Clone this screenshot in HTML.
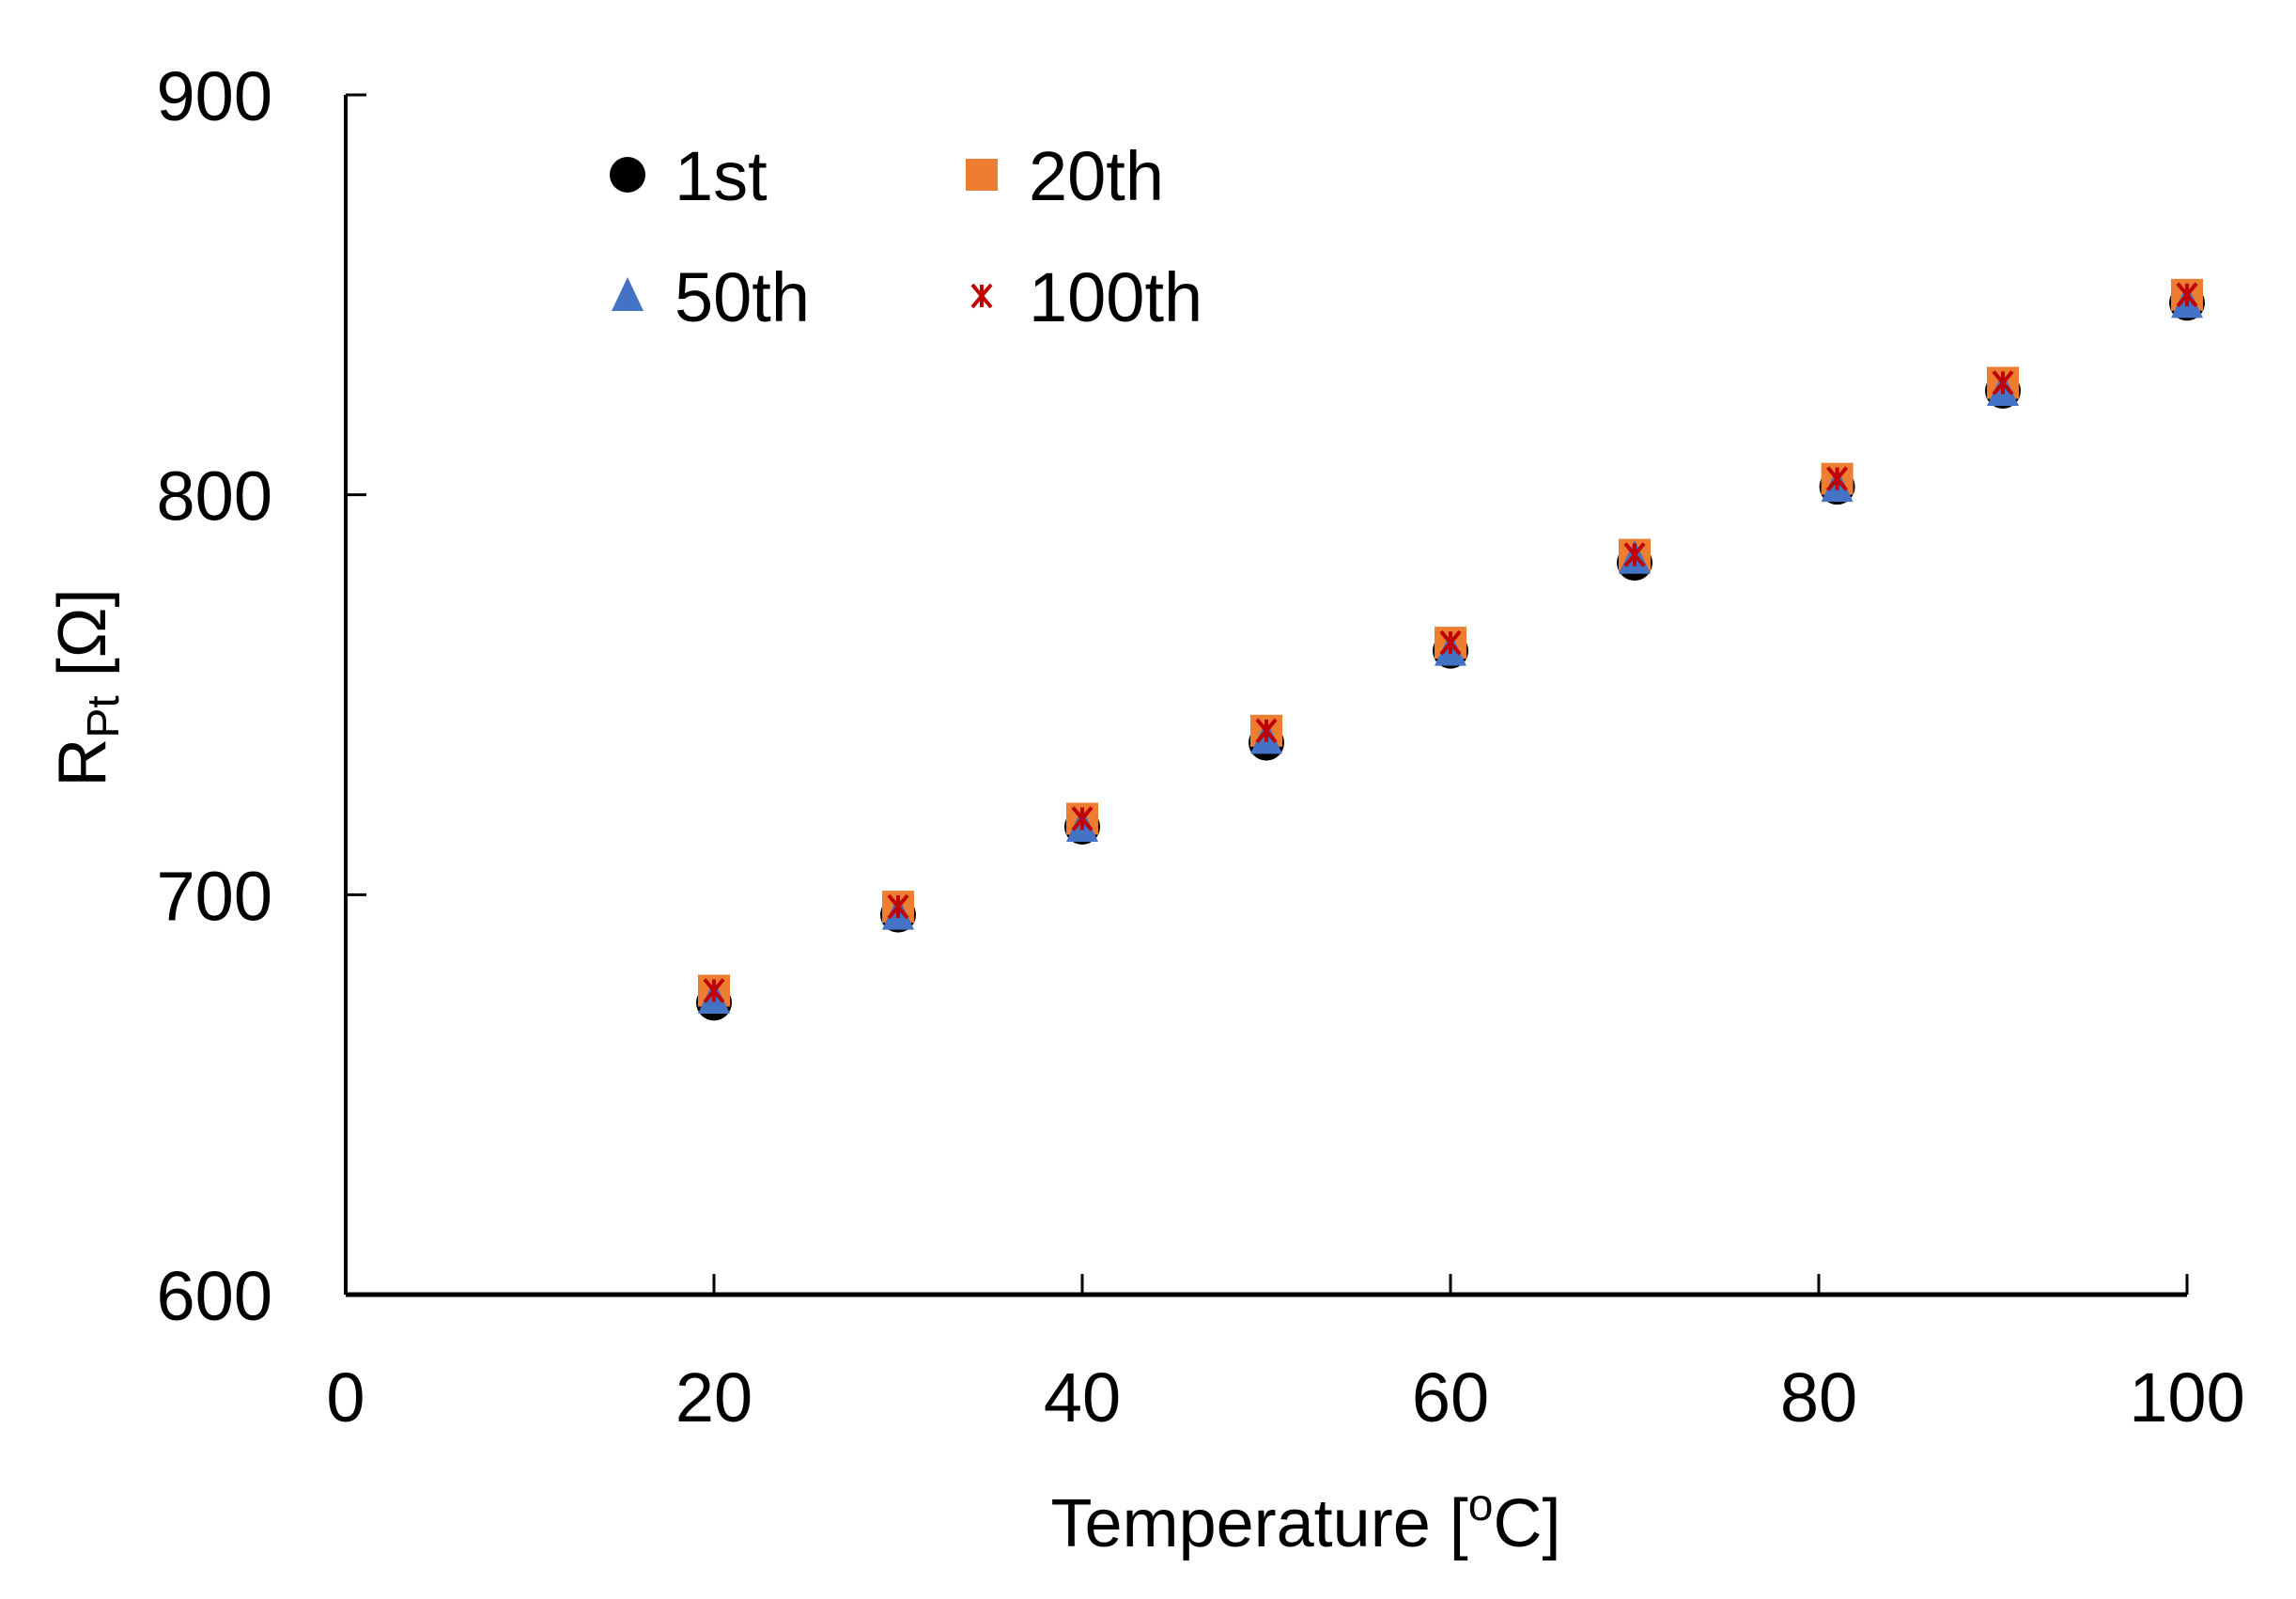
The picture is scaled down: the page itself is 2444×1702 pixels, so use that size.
<!DOCTYPE html>
<html><head><meta charset="utf-8"><style>
html,body{margin:0;padding:0;background:#fff;}
svg{display:block;font-family:"Liberation Sans","DejaVu Sans",sans-serif;}
</style></head><body>
<svg id="chart" width="2444" height="1702" viewBox="0 0 2444 1702" xmlns="http://www.w3.org/2000/svg">
<g id="axes"></g>
<g id="marks"></g>
<g id="legend"></g>
<text x="1390" y="1646" font-size="72" text-anchor="middle" fill="#000">Temperature [<tspan font-size="48" dy="-28">o</tspan><tspan dy="28">C]</tspan></text>
<text transform="translate(112,732) rotate(-90)" font-size="72" text-anchor="middle" fill="#000">R<tspan font-size="48" dy="14">Pt</tspan><tspan dy="-14"> [Ω]</tspan></text>
</svg>
<script>
const temps = [20, 30, 40, 50, 60, 70, 81, 90, 100];
const s1st = [673, 695, 717, 738, 761, 783, 802, 826, 848];
const s20th = [676, 697, 719, 741, 763, 785, 804, 828, 850];
const s50th = [674, 695, 717, 739, 761, 784, 802, 826, 848];
const s100th = [676, 697, 719, 741, 763, 785, 804, 828, 850];
const xTicks = [0, 20, 40, 60, 80, 100];
const yTicks = [600, 700, 800, 900];

const NS = "http://www.w3.org/2000/svg";
const X0 = 368, X1 = 2328, Y0 = 1378, Y1 = 101;
function xs(v){ return X0 + (v - 0) / 100 * (X1 - X0); }
function ys(v){ return Y0 - (v - 600) / 300 * (Y0 - Y1); }
function mk(tag, attrs, parent){
  const e = document.createElementNS(NS, tag);
  for (const k in attrs) e.setAttribute(k, attrs[k]);
  parent.appendChild(e); return e;
}
const axes = document.getElementById('axes');
const marks = document.getElementById('marks');
const legend = document.getElementById('legend');

let l = mk('line', {x1:X0, y1:Y0, x2:X1, y2:Y0, stroke:'#000', 'stroke-width':5}, axes);


l = mk('line', {x1:X0, y1:Y0, x2:X0, y2:Y1, stroke:'#000', 'stroke-width':4}, axes);



xTicks.forEach(t => {
  const tk = mk('line', {x1:xs(t), y1:Y0, x2:xs(t), y2:Y0-22, stroke:'#000', 'stroke-width':3}, axes);
  
  
  const tx = mk('text', {x:xs(t), y:1513, 'font-size':74, 'text-anchor':'middle', fill:'#000'}, axes);
  tx.textContent = t;
  
  
});
yTicks.forEach(t => {
  const tk = mk('line', {x1:X0, y1:ys(t), x2:X0+22, y2:ys(t), stroke:'#000', 'stroke-width':3}, axes);
  
  
  const tx = mk('text', {x:290, y:ys(t)+27, 'font-size':74, 'text-anchor':'end', fill:'#000'}, axes);
  tx.textContent = t;
  
  
});

function circle(x, y, p){ return mk('circle', {cx:x, cy:y, r:19, fill:'#000'}, p); }
function square(x, y, p){ return mk('rect', {x:x-17, y:y-17, width:34, height:34, fill:'#ED7D31'}, p); }
function tri(x, y, p){ return mk('polygon', {points:`${x},${y-20} ${x+17},${y+16} ${x-17},${y+16}`, fill:'#4472C4'}, p); }
function star(x, y, p){
  const g = mk('g', {stroke:'#C00000', 'stroke-width':4}, p);
  mk('line', {x1:x-10, y1:y-12, x2:x+10, y2:y+12}, g);
  mk('line', {x1:x+10, y1:y-12, x2:x-10, y2:y+12}, g);
  mk('line', {x1:x, y1:y-12, x2:x, y2:y+12}, g);
  return g;
}
const series = [
  {vals:s1st, fn:circle, name:'point-1st'},
  {vals:s20th, fn:square, name:'point-20th'},
  {vals:s50th, fn:tri, name:'point-50th'},
  {vals:s100th, fn:star, name:'point-100th'}
];
series.forEach(s => {
  s.vals.forEach((v, i) => {
    const e = s.fn(xs(temps[i]), ys(v), marks);
    
    
  });
});

const leg = [
  {fn:circle, label:'1st', x:668, y:186},
  {fn:square, label:'20th', x:1045, y:186},
  {fn:tri, label:'50th', x:668, y:315},
  {fn:star, label:'100th', x:1045, y:315}
];
leg.forEach(it => {
  const m = it.fn(it.x, it.y, legend);
  
  
  const t = mk('text', {x:it.x+50, y:it.y+27, 'font-size':74, fill:'#000'}, legend);
  t.textContent = it.label;
  
  
});
</script>
</body></html>
